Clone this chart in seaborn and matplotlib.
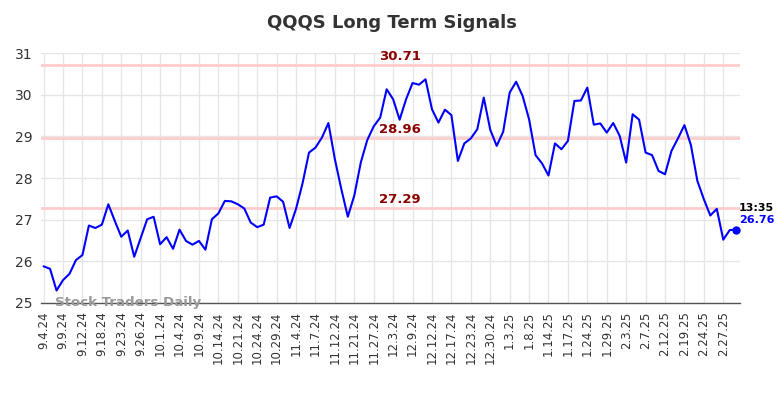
import numpy as np
import pandas as pd
import matplotlib
matplotlib.use("Agg")
import matplotlib.pyplot as plt
import seaborn as sns

prices = [
    25.88, 25.82, 25.30, 25.55, 25.70, 26.03, 26.15, 26.86, 26.80, 26.88,
    27.37, 26.97, 26.59, 26.74, 26.11, 26.56, 27.01, 27.07, 26.41, 26.58,
    26.30, 26.76, 26.49, 26.40, 26.49, 26.28, 27.01, 27.15, 27.45, 27.44,
    27.37, 27.27, 26.93, 26.82, 26.88, 27.53, 27.56, 27.43, 26.80, 27.26,
    27.87, 28.61, 28.73, 28.97, 29.32, 28.45, 27.73, 27.07, 27.58, 28.37,
    28.91, 29.24, 29.45, 30.13, 29.89, 29.40, 29.89, 30.28, 30.24, 30.37,
    29.65, 29.33, 29.64, 29.51, 28.41, 28.83, 28.95, 29.17, 29.93, 29.16,
    28.77, 29.11, 30.05, 30.31, 29.97, 29.41, 28.55, 28.35, 28.06, 28.83,
    28.69, 28.89, 29.85, 29.86, 30.17, 29.28, 29.31, 29.09, 29.32, 29.01,
    28.37, 29.53, 29.40, 28.61, 28.55, 28.17, 28.09, 28.65, 28.95, 29.27,
    28.79, 27.93, 27.49, 27.10, 27.26, 26.52, 26.75, 26.76,
]

tick_labels = [
    "9.4.24", "9.9.24", "9.12.24", "9.18.24", "9.23.24", "9.26.24", "10.1.24",
    "10.4.24", "10.9.24", "10.14.24", "10.21.24", "10.24.24", "10.29.24",
    "11.4.24", "11.7.24", "11.12.24", "11.21.24", "11.27.24", "12.3.24",
    "12.9.24", "12.12.24", "12.17.24", "12.23.24", "12.30.24", "1.3.25",
    "1.8.25", "1.14.25", "1.17.25", "1.24.25", "1.29.25", "2.3.25", "2.7.25",
    "2.12.25", "2.19.25", "2.24.25", "2.27.25",
]

levels = [30.71, 28.96, 27.29]
last_time = "13:35"

df = pd.DataFrame({"day": np.arange(len(prices)), "price": prices})

sns.set_style("whitegrid")
plt.rcParams["font.family"] = ["DejaVu Sans"]

fig = plt.figure(figsize=(7.84, 3.98), dpi=100)
ax = fig.add_axes([0.0523, 0.2387, 0.8917, 0.6281])

for lv in levels:
    ax.axhline(lv, color="#ffcccc", lw=2, zorder=1)
    ax.text(55, lv + 0.04, f"{lv:.2f}", color="#8b0000", fontsize=9.5,
            fontweight="bold", ha="center", va="bottom", zorder=3)

sns.lineplot(data=df, x="day", y="price", color="blue", lw=1.5, ax=ax, zorder=2)

last = df.iloc[-1]
ax.plot(last["day"], last["price"], "o", color="blue", ms=5, zorder=4)
ax.text(last["day"] + 0.4, last["price"] + 0.4, last_time, color="black",
        fontsize=8, fontweight="bold", ha="left", va="bottom")
ax.text(last["day"] + 0.4, last["price"] + 0.35, f"{last['price']:.2f}",
        color="blue", fontsize=8, fontweight="bold", ha="left", va="top")

ax.text(1.8, 25.02, "Stock Traders Daily", color="#999999", fontsize=9.6,
        fontweight="bold", ha="left", va="center", zorder=3)

ax.set_xlim(-0.4, 107.6)
ax.set_ylim(25, 31)
ax.set_yticks(range(25, 32))
ax.set_xticks(np.arange(0, 3 * len(tick_labels), 3))
ax.set_xticklabels(tick_labels, rotation=90, fontsize=8.5, color="#333333")
ax.tick_params(axis="y", labelsize=10, labelcolor="#333333")
ax.tick_params(axis="both", length=0, pad=6)
ax.grid(True, color="#e6e6e6", lw=1)
ax.set_xlabel("")
ax.set_ylabel("")
for s in ["top", "right", "left"]:
    ax.spines[s].set_visible(False)
ax.spines["bottom"].set_color("#555555")
ax.spines["bottom"].set_linewidth(1)

fig.suptitle("QQQS Long Term Signals", x=0.5, y=0.965, fontsize=13,
             fontweight="bold", color="#333333")

fig.savefig("out.png", dpi=100)
